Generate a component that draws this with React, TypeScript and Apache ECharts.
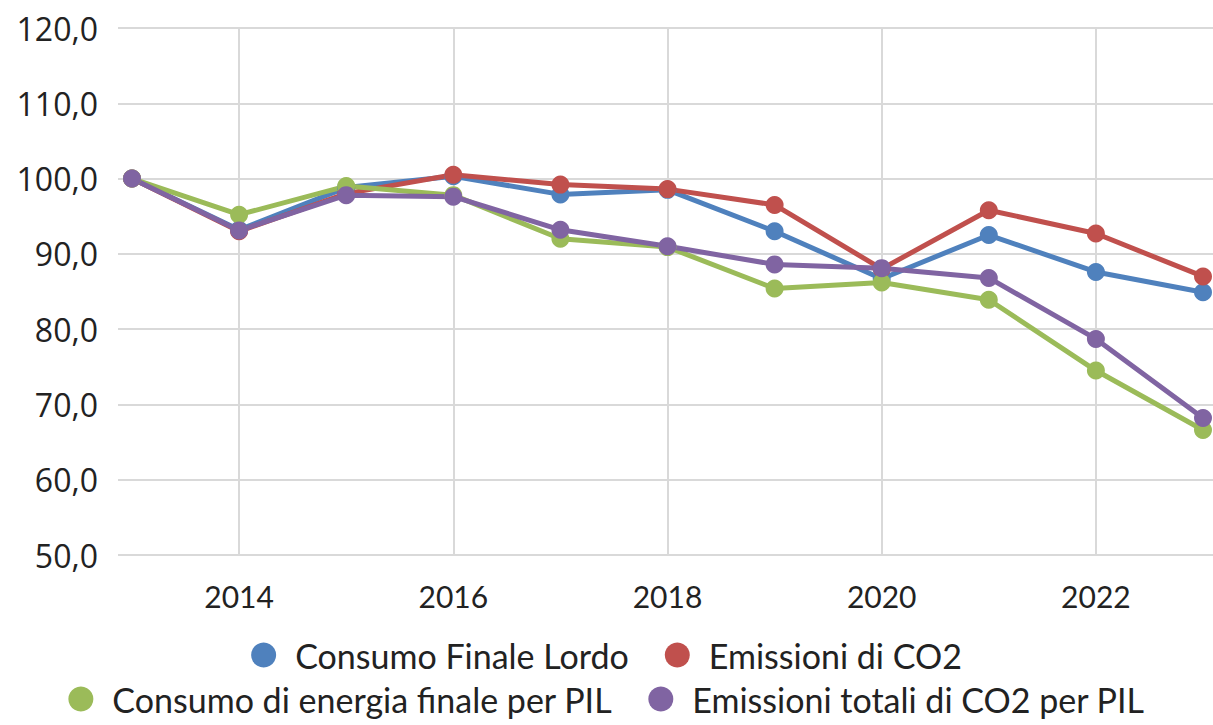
import React, { useEffect, useRef } from "react";
import * as echarts from "echarts";

const years = ["2013", "2014", "2015", "2016", "2017", "2018", "2019", "2020", "2021", "2022", "2023"];
const consumoFinaleLordo = [100.0, 93.2, 98.8, 100.3, 97.9, 98.5, 93.0, 86.7, 92.5, 87.6, 84.9];
const emissioniCO2 = [100.0, 93.0, 98.0, 100.5, 99.2, 98.6, 96.5, 88.0, 95.8, 92.7, 87.0];
const consumoEnergiaPIL = [100.0, 95.2, 99.0, 97.8, 92.0, 90.9, 85.4, 86.2, 83.9, 74.5, 66.6];
const emissioniCO2PIL = [100.0, 93.1, 97.8, 97.6, 93.2, 91.0, 88.6, 88.1, 86.8, 78.7, 68.2];
const seriesNames = [
  "Consumo Finale Lordo",
  "Emissioni di CO2",
  "Consumo di energia finale per PIL",
  "Emissioni totali di CO2 per PIL",
];
const colors = ["#4F81BD", "#C0504D", "#9BBB59", "#8064A2"];
const yMin = 50;
const yMax = 120;
const yStep = 10;

export default function App() {
  const ref = useRef<HTMLDivElement>(null);
  useEffect(() => {
    if (!ref.current) return;
    const chart = echarts.init(ref.current, null, { renderer: "svg" });
    const font = "Lato, 'Noto Sans', sans-serif";
    const dataSets = [consumoFinaleLordo, emissioniCO2, consumoEnergiaPIL, emissioniCO2PIL];
    const showOdd = (i: number) => i % 2 === 1;
    const gridLine = { color: "#d9d9d9", width: 2 };
    const legendCommon = {
      left: "center",
      icon: "circle",
      itemWidth: 25,
      itemHeight: 25,
      itemGap: 36,
      padding: 0,
      textStyle: { fontSize: 34, color: "#222", fontFamily: font, padding: [0, 0, 0, 14] },
    };
    chart.setOption({
      animation: false,
      color: colors,
      textStyle: { fontFamily: font },
      grid: [
        { left: 118, right: 0, top: 28, bottom: 170, containLabel: false },
        { left: 132, right: 10, top: 28, bottom: 170, containLabel: false },
      ],
      xAxis: [
        { type: "value", gridIndex: 0, show: false, min: 0, max: 1 },
        {
          type: "category",
          gridIndex: 1,
          data: years,
          boundaryGap: false,
          axisLine: { show: false },
          axisTick: { show: false },
          axisLabel: {
            interval: showOdd,
            color: "#222",
            fontSize: 30,
            fontFamily: font,
            margin: 26,
          },
          splitLine: { show: true, interval: showOdd, lineStyle: gridLine },
        },
      ],
      yAxis: [
        {
          type: "value",
          gridIndex: 0,
          min: yMin,
          max: yMax,
          interval: yStep,
          axisLine: { show: false },
          axisTick: { show: false },
          axisLabel: {
            color: "#222",
            fontSize: 32,
            fontFamily: "'Open Sans', sans-serif",
            margin: 20,
            formatter: (v: number) => v.toFixed(1).replace(".", ","),
          },
          splitLine: { lineStyle: gridLine },
        },
        {
          type: "value",
          gridIndex: 1,
          min: yMin,
          max: yMax,
          interval: yStep,
          show: false,
          splitLine: { show: false },
        },
      ],
      legend: [
        { ...legendCommon, data: seriesNames.slice(0, 2), top: 638 },
        { ...legendCommon, data: seriesNames.slice(2, 4), top: 682 },
      ],
      series: seriesNames.map((name, i) => ({
        name,
        type: "line",
        xAxisIndex: 1,
        yAxisIndex: 1,
        data: dataSets[i],
        symbol: "circle",
        symbolSize: 18,
        lineStyle: { width: 5, color: colors[i] },
        itemStyle: { color: colors[i] },
      })),
    });
    return () => chart.dispose();
  }, []);
  return <div ref={ref} style={{ width: 1213, height: 725, position: "absolute", left: 0, top: 0 }} />;
}
